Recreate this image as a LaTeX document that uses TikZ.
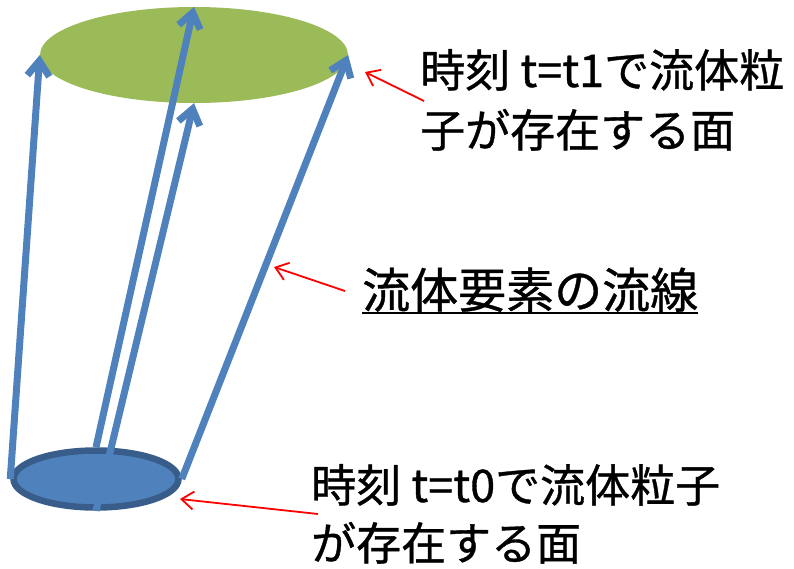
\documentclass[tikz,border=0pt]{standalone}
\usepackage{fontspec}
\setmainfont{Noto Sans CJK JP}[FakeBold=0.8]
\usetikzlibrary{arrows.meta,shapes.geometric}
\definecolor{flowblue}{HTML}{4F81BD}
\definecolor{rimblue}{HTML}{385D8A}
\definecolor{surfgreen}{HTML}{9BBB59}
\begin{document}
\begin{tikzpicture}[x=1pt,y=-1pt,
  streamline/.style={draw=flowblue, line width=7pt, -{Straight Barb[length=15pt,width=22pt]}},
  pointer/.style={draw=red, line width=1.8pt, -{Straight Barb[length=12pt,width=18pt]}},
  label/.style={anchor=base west, inner sep=0pt, font=\fontsize{45}{54}\selectfont},
]
\useasboundingbox (0,0) rectangle (794,568);
\node[ellipse, fill=surfgreen, minimum width=308pt, minimum height=96pt, inner sep=0pt] (top) at (194,55) {};
\node[ellipse, fill=flowblue, draw=rimblue, line width=6.5pt, minimum width=165pt, minimum height=57pt, inner sep=0pt] (bot) at (96,479) {};
\draw[streamline] (bot.west) -- (top.west);
\draw[streamline] (bot.north) -- (top.north);
\draw[streamline] (bot.south) -- (top.south);
\draw[streamline] (bot.east) -- (top.east);

\node[label] (t1a) at (420,87) {時刻 t=t1で流体粒};
\node[label] (t1b) at (420,147) {子が存在する面};
\node[label, font=\fontsize{48}{56}\selectfont] (t2) at (362,308) {流体要素の流線};
\draw[line width=2pt] ([yshift=-5pt]t2.base west) -- ([yshift=-5pt]t2.base east);
\node[label] (t3a) at (311,502) {時刻 t=t0で流体粒子};
\node[label] (t3b) at (311,560) {が存在する面};

\coordinate (p1tail) at (424,101);
\coordinate (p1tip) at (365,72);
\coordinate (p2tail) at (345,291);
\coordinate (p2tip) at (274,267);
\coordinate (p3tail) at (318,514);
\coordinate (p3tip) at (180,499);
\draw[pointer] (p1tail) -- (p1tip);
\draw[pointer] (p2tail) -- (p2tip);
\draw[pointer] (p3tail) -- (p3tip);
\end{tikzpicture}
\end{document}
